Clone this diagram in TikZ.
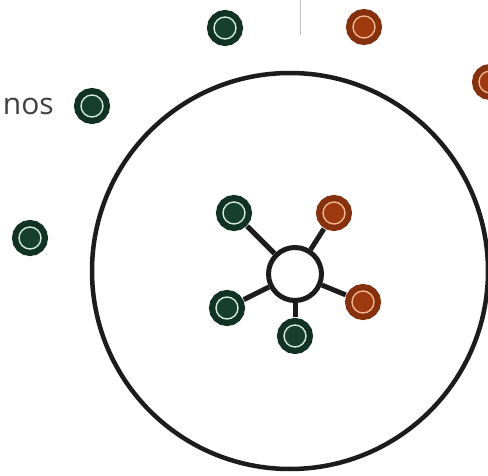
\documentclass[tikz,border=0pt]{standalone}
\usepackage{fontspec}
\setmainfont{Open Sans}
\usepackage{tikz}
\definecolor{gdark}{HTML}{173F30}
\definecolor{glight}{HTML}{D2EBDD}
\definecolor{odark}{HTML}{9E3A10}
\definecolor{olight}{HTML}{F4B48E}
\definecolor{ink}{HTML}{1C1C1C}

\begin{document}
\begin{tikzpicture}[x=1pt,y=-1pt,
  gnode/.style={circle,minimum size=22pt,inner sep=0pt,outer sep=7.7pt,
    fill=gdark,draw=glight,line width=1.4pt,
    preaction={draw=gdark!80!black,line width=14pt}},
  onode/.style={circle,minimum size=22pt,inner sep=0pt,outer sep=7.7pt,
    fill=odark,draw=olight,line width=1.4pt,
    preaction={draw=odark!85!black,line width=14pt}},
  hub/.style={circle,minimum size=53pt,inner sep=0pt,fill=white,draw=ink,line width=5pt},
  spoke/.style={draw=ink,line width=5pt}]
\useasboundingbox (0,0) rectangle (488,476);
% outer ring
\draw[ink,line width=4.5pt] (290,271) circle (198);
% divider
\coordinate (dtop) at (300,0);
\coordinate (dbot) at (300,35);
\draw[black!25,line width=1pt] (dtop) -- (dbot);
% loose nodes
\node[gnode] (ga) at (225,28) {};
\node[onode] (oa) at (364,27) {};
\node[onode] (ob) at (490,82) {};
\node[gnode] (gb) at (92,106) {};
\node[gnode] (gc) at (30,238) {};
\node[anchor=east,text=black!75,inner sep=0pt,font=\fontsize{30}{30}\selectfont] (lbl) at (54,106) {nos};
% hub and spokes
\node[gnode] (g1) at (234,213) {};
\node[onode] (o1) at (334,213) {};
\node[gnode] (g2) at (227,308) {};
\node[gnode] (g3) at (295,336) {};
\node[onode] (o2) at (363,302) {};
\node[hub] (c) at (295,274) {};
\foreach \n in {g1,o1,g2,g3,o2}
  \draw[spoke] (c) -- (\n);
\end{tikzpicture}
\end{document}
